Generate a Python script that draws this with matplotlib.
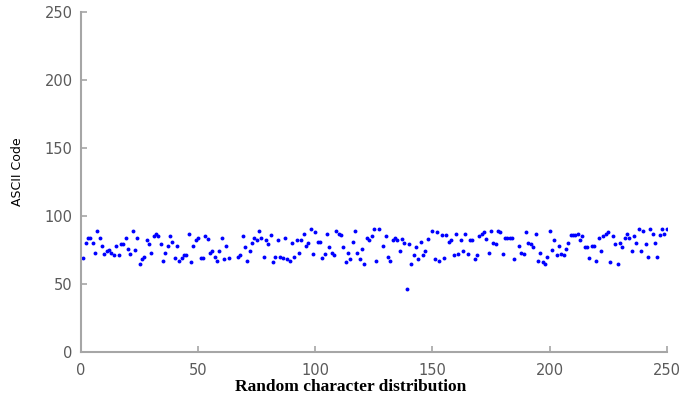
import matplotlib
matplotlib.use('Agg')
import matplotlib.pyplot as plt

# character index and its ASCII code
char_index = [
    1, 2, 3, 4, 5, 6, 7, 8, 9, 10, 11, 12, 13, 14, 15, 16, 17, 18, 19, 20,
    21, 22, 23, 24, 25, 26, 27, 28, 29, 30, 31, 32, 33, 34, 35, 36, 37, 38, 39, 40,
    41, 42, 43, 44, 45, 46, 47, 48, 49, 50, 51, 52, 53, 54, 55, 56, 57, 58, 59, 60,
    61, 62, 63, 67, 68, 69, 70, 71, 72, 73, 74, 75, 76, 77, 78, 79, 80,
    81, 82, 83, 84, 85, 86, 87, 88, 89, 90, 91, 92, 93, 94, 95, 96, 97, 98, 99, 100,
    101, 102, 103, 104, 105, 106, 107, 108, 109, 110, 111, 112, 113, 114, 115, 116, 117, 118, 119, 120,
    121, 122, 123, 124, 125, 126, 127, 129, 130, 131, 132, 133, 134, 135, 136, 137, 138, 139, 140,
    141, 142, 143, 144, 145, 146, 147, 148, 150, 151, 152, 153, 154, 155, 156, 157, 158, 159, 160,
    161, 162, 163, 164, 165, 166, 167, 168, 169, 170, 171, 172, 173, 174, 175, 176, 177, 178, 179, 180,
    181, 182, 183, 184, 185, 187, 188, 189, 190, 191, 192, 193, 194, 195, 196, 197, 198, 199, 200,
    201, 202, 203, 204, 205, 206, 207, 208, 209, 210, 211, 212, 213, 214, 215, 216, 217, 218, 219, 220,
    221, 222, 223, 224, 225, 226, 227, 228, 229, 230, 231, 232, 233, 234, 235, 236, 237, 238, 239, 240,
    241, 242, 243, 244, 245, 246, 247, 248, 249, 250,
]
ascii_code = [
    69, 80, 84, 84, 80, 73, 89, 84, 78, 72, 74, 75, 73, 71, 78, 71, 79, 79, 84, 76,
    72, 89, 75, 84, 65, 68, 70, 82, 79, 73, 85, 87, 85, 79, 67, 73, 78, 85, 81, 69,
    78, 67, 69, 71, 71, 87, 66, 78, 82, 84, 69, 69, 85, 83, 73, 74, 70, 67, 74, 84,
    68, 78, 69, 70, 71, 85, 77, 67, 74, 80, 84, 82, 89, 84, 70, 82, 79,
    86, 66, 70, 82, 70, 69, 84, 68, 67, 80, 70, 82, 73, 82, 87, 78, 80, 90, 72, 88,
    81, 81, 69, 72, 87, 77, 73, 71, 89, 87, 86, 77, 66, 73, 68, 81, 89, 73, 68, 76,
    65, 84, 82, 85, 90, 67, 90, 78, 85, 70, 67, 82, 84, 82, 74, 83, 80, 46, 79,
    65, 71, 77, 68, 81, 71, 74, 83, 89, 68, 88, 67, 86, 69, 86, 81, 82, 71, 87,
    72, 82, 74, 87, 72, 82, 82, 68, 71, 85, 87, 88, 83, 73, 89, 80, 79, 89, 88, 72,
    84, 84, 84, 84, 68, 78, 73, 72, 88, 80, 79, 77, 87, 67, 73, 66, 65, 70, 89,
    75, 82, 71, 78, 72, 71, 76, 80, 86, 86, 86, 87, 82, 85, 77, 77, 69, 78, 78, 67,
    84, 74, 85, 87, 88, 66, 85, 79, 65, 80, 77, 84, 87, 84, 74, 85, 80, 90, 74, 89,
    79, 70, 90, 87, 80, 70, 86, 90, 87, 90,
]

axis_grey = '#a6a6a6'
label_grey = '#5a5a5a'

fig = plt.figure(figsize=(6.81, 3.97), dpi=100)
ax = fig.add_axes([0.119, 0.1134, 0.86, 0.857])

ax.plot(char_index, ascii_code, linestyle='none', marker='o', markersize=2.8,
        color='blue', markeredgewidth=0)

ax.set_xlim(0, 250)
ax.set_ylim(0, 250)
ax.set_xticks([0, 50, 100, 150, 200, 250])
ax.set_yticks([0, 50, 100, 150, 200, 250])

for side in ['top', 'right']:
    ax.spines[side].set_visible(False)
for side in ['left', 'bottom']:
    ax.spines[side].set_color(axis_grey)
    ax.spines[side].set_linewidth(1.5)

ax.tick_params(direction='in', length=4, width=1.2, color=axis_grey,
               labelcolor=label_grey, labelsize=10.5)
ax.tick_params(axis='x', pad=8)
ax.tick_params(axis='y', pad=6)

ax.set_xlabel('Random character distribution', fontfamily='Liberation Serif',
              fontweight='bold', fontsize=12.5, va='center')
ax.xaxis.set_label_coords(0.461, -0.102)
ax.set_ylabel('ASCII Code', fontsize=9, va='center')
ax.yaxis.set_label_coords(-0.108, 0.53)

fig.savefig('out.png', dpi=100)
